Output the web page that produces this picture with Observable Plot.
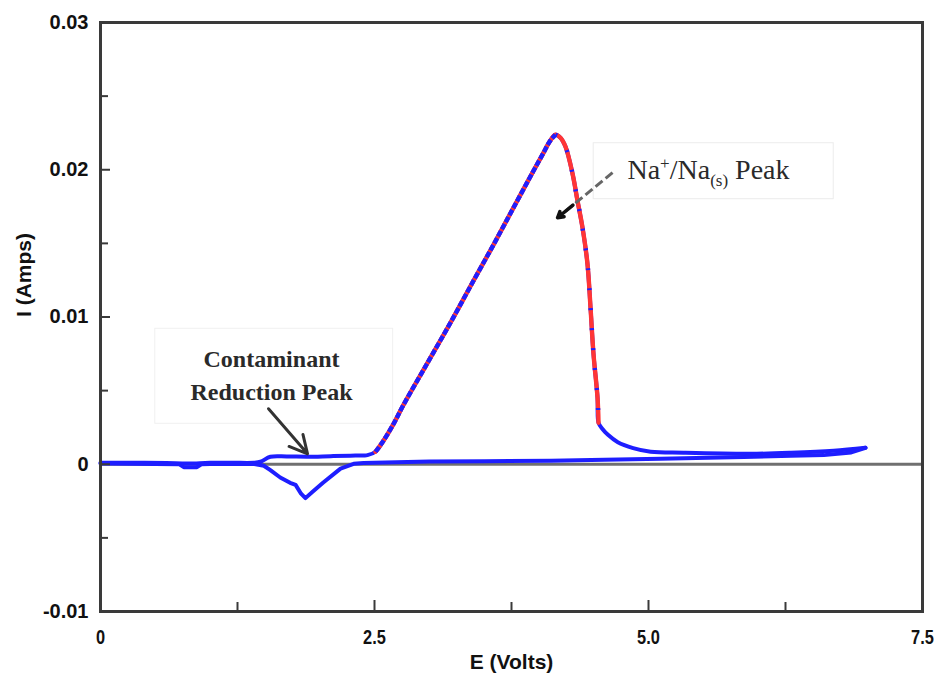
<!DOCTYPE html>
<html>
<head>
<meta charset="utf-8">
<script src="https://cdn.jsdelivr.net/npm/d3@7"></script>
<script src="https://cdn.jsdelivr.net/npm/@observablehq/plot@0.6"></script>
<style>
  html, body { margin: 0; padding: 0; background: #fff; }
</style>
</head>
<body>
<div id="chart"></div>
<script>
// ---- Data ----
// Forward scan, E (Volts) and I (Amps)
const forwardV = [0.00, 0.30, 0.60, 0.80, 1.00, 1.20, 1.40, 1.46, 1.55, 1.70, 1.89, 2.10, 2.28, 2.40, 2.436, 2.509, 2.582, 2.673, 2.765, 2.984, 3.193, 3.403, 3.586, 3.768, 3.951, 4.042, 4.097, 4.151, 4.197, 4.243, 4.307, 4.352, 4.398, 4.443, 4.471, 4.498, 4.535, 4.544, 4.58, 4.63, 4.72, 4.86, 5.02, 5.32, 5.93, 6.30, 6.69, 6.98];
const forwardI = [0.0001, 0.0001, 0.00008, 0.00005, 0.0001, 0.0001, 0.0001, 0.00017, 0.00051, 0.00053, 0.00051, 0.00055, 0.00058, 0.0006, 0.00062, 0.00085, 0.0016, 0.00273, 0.00404, 0.00689, 0.00961, 0.01246, 0.01491, 0.01742, 0.01993, 0.02115, 0.0219, 0.02238, 0.02217, 0.02156, 0.01973, 0.0179, 0.01606, 0.01362, 0.01063, 0.0075, 0.00451, 0.00282, 0.0024, 0.0020, 0.0015, 0.0011, 0.00085, 0.00078, 0.00071, 0.00078, 0.00092, 0.00112];
// Return scan
const returnV = [6.98, 6.85, 6.60, 6.30, 5.87, 5.11, 4.60, 4.11, 3.50, 3.00, 2.60, 2.40, 2.31, 2.19, 2.03, 1.93, 1.87, 1.83, 1.78, 1.73, 1.64, 1.55, 1.49, 1.40, 1.00, 0.92, 0.88, 0.76, 0.72, 0.50, 0.00];
const returnI = [0.00112, 0.0008, 0.00062, 0.00058, 0.0005, 0.00037, 0.0003, 0.00024, 0.0002, 0.00018, 0.00012, 0.00008, 0.00003, -0.0003, -0.00126, -0.0019, -0.0023, -0.0020, -0.0014, -0.00126, -0.0009, -0.0004, -0.0001, 0.00002, 0.00002, 0.0, -0.0002, -0.0002, 0.0, 0.00002, 0.00005];

// Axes ticks and labels
const xTickValues = [0, 2.5, 5.0, 7.5];
const xTickLabels = ["0", "2.5", "5.0", "7.5"];
const xMinorTicks = [1.25, 3.75, 6.25];
const yTickValues = [-0.01, 0, 0.01, 0.02, 0.03];
const yTickLabels = ["-0.01", "0", "0.01", "0.02", "0.03"];
const yMinorTicks = [-0.005, 0.005, 0.015, 0.025];
const xLabel = "E (Volts)";
const yLabel = "I (Amps)";

// Annotations
const contamLines = ["Contaminant", "Reduction Peak"];
const contamLineAt = [[1.56, 0.0071], [1.56, 0.00486]];
const contamArrow = {x1: 1.533, y1: 0.00377, x2: 1.889, y2: 0.00071};
const naLabel = "Na+/Na(s) Peak";
const naLabelAt = [4.808, 0.0200];
const naArrow = {x1: 4.672, y1: 0.0198, x2: 4.170, y2: 0.01674};
const naBox = {x1: 4.50, x2: 6.69, y1: 0.0180, y2: 0.0218};
const contamBox = {x1: 0.50, x2: 2.67, y1: 0.00275, y2: 0.0092};

// ---- Build tables ----
const forward = forwardV.map((v, i) => ({V: v, I: forwardI[i]}));
const back = returnV.map((v, i) => ({V: v, I: returnI[i]}));
const peak = forward.filter(d => d.V >= 2.45 && d.V <= 4.55);
const rising = forward.filter(d => d.V >= 2.45 && d.V <= 4.16);
const falling = forward.filter(d => d.V >= 4.15 && d.V <= 4.55);

const W = 934, H = 681, mL = 100, mR = 12, mT = 22, mB = 70;
const innerW = W - mL - mR, innerH = H - mT - mB;
const axisColor = "#3a3a3a";
const blue = "#1e1eff";
const red = "#ff3535";

// Head part of the dashed Na arrow
const hf = 0.72;
const naHead = {
  x1: naArrow.x1 + (naArrow.x2 - naArrow.x1) * hf,
  y1: naArrow.y1 + (naArrow.y2 - naArrow.y1) * hf,
  x2: naArrow.x2, y2: naArrow.y2
};

const chart = Plot.plot({
  width: W,
  height: H,
  marginLeft: mL,
  marginRight: mR,
  marginTop: mT,
  marginBottom: mB,
  x: {domain: [0, 7.5]},
  y: {domain: [-0.01, 0.03]},
  style: {background: "#fff", fontFamily: "Liberation Sans, Arial, sans-serif"},
  marks: [
    // faint annotation boxes
    Plot.rect([naBox], {x1: "x1", x2: "x2", y1: "y1", y2: "y2", fill: "none", stroke: "#ececec", strokeWidth: 1}),
    Plot.rect([contamBox], {x1: "x1", x2: "x2", y1: "y1", y2: "y2", fill: "none", stroke: "#f0f0f0", strokeWidth: 1}),
    // zero line
    Plot.ruleY([0], {stroke: "#707070", strokeWidth: 3}),
    // curves
    Plot.line(forward, {x: "V", y: "I", stroke: blue, strokeWidth: 4, strokeLinejoin: "round", strokeLinecap: "round", curve: "catmull-rom"}),
    Plot.line(back, {x: "V", y: "I", stroke: blue, strokeWidth: 4, strokeLinejoin: "round", strokeLinecap: "round"}),
    Plot.line(peak, {x: "V", y: "I", stroke: red, strokeWidth: 4.4, strokeLinejoin: "round", curve: "catmull-rom"}),
    Plot.line(rising, {x: "V", y: "I", stroke: blue, strokeWidth: 4.4, strokeDasharray: "6,2", strokeLinecap: "butt", curve: "catmull-rom"}),
    Plot.line(falling, {x: "V", y: "I", stroke: blue, strokeWidth: 4.4, strokeDasharray: "2,18", strokeLinecap: "butt", curve: "catmull-rom"}),
    // frame
    Plot.frame({stroke: axisColor, strokeWidth: 3}),
    // inward ticks
    Plot.tickX(xTickValues, {x: d => d, insetTop: innerH - 11, stroke: axisColor, strokeWidth: 2}),
    Plot.tickX(xMinorTicks, {x: d => d, insetTop: innerH - 9, stroke: axisColor, strokeWidth: 2}),
    Plot.tickY(yTickValues, {y: d => d, insetRight: innerW - 10, stroke: axisColor, strokeWidth: 2}),
    Plot.tickY(yMinorTicks, {y: d => d, insetRight: innerW - 8, stroke: axisColor, strokeWidth: 2}),
    // axes labels
    Plot.axisX({ticks: xTickValues, tickSize: 0, tickPadding: 18, tickFormat: d => xTickLabels[xTickValues.indexOf(d)], fontSize: 20, fontWeight: "bold", fill: "#111", label: null}),
    Plot.axisY({ticks: yTickValues, tickSize: 0, tickPadding: 12, tickFormat: d => yTickLabels[yTickValues.indexOf(d)], fontSize: 20, fontWeight: "bold", fill: "#111", label: null}),
    Plot.text([xLabel], {frameAnchor: "bottom", dy: 57, fontSize: 21, fontWeight: "bold", fill: "#111"}),
    Plot.text([yLabel], {frameAnchor: "left", dx: -76, rotate: -90, fontSize: 21, fontWeight: "bold", fill: "#111"}),
    // contaminant annotation
    Plot.text(contamLines, {x: (d, i) => contamLineAt[i][0], y: (d, i) => contamLineAt[i][1], text: d => d, fontFamily: "Liberation Serif, serif", fontWeight: "bold", fontSize: 24, fill: "#2a2a2a", letterSpacing: "0.5px"}),
    Plot.arrow([contamArrow], {x1: "x1", y1: "y1", x2: "x2", y2: "y2", stroke: "#333", strokeWidth: 3, headLength: 13, headAngle: 55}),
    // Na peak annotation
    Plot.text([naLabel], {x: naLabelAt[0], y: naLabelAt[1], text: d => d, textAnchor: "start", fontFamily: "Liberation Serif, serif", fontSize: 28, fill: "#2a2a2a"}),
    Plot.link([naArrow], {x1: "x1", y1: "y1", x2: "x2", y2: "y2", stroke: "#666", strokeWidth: 3, strokeDasharray: "9,4"}),
    Plot.arrow([naHead], {x1: "x1", y1: "y1", x2: "x2", y2: "y2", stroke: "#111", strokeWidth: 3.5, headLength: 14, headAngle: 60})
  ]
});

// Superscript / subscript for the Na label
d3.select(chart).selectAll("text").filter(function () { return this.textContent === naLabel; }).each(function () {
  const t = d3.select(this);
  t.text("");
  t.append("tspan").text("Na");
  t.append("tspan").attr("dy", -10).attr("font-size", 17).text("+");
  t.append("tspan").attr("dy", 10).text("/Na");
  t.append("tspan").attr("dy", 7).attr("font-size", 17).text("(s)");
  t.append("tspan").attr("dy", -7).text(" Peak");
});

// Narrow (condensed) look of the x tick labels, as in the reference
d3.select(chart).selectAll('g[aria-label="x-axis tick label"] text').each(function () {
  const tr = this.getAttribute("transform") || "";
  this.setAttribute("transform", tr + " scale(0.82,1)");
});

document.getElementById("chart").appendChild(chart);
</script>
</body>
</html>
